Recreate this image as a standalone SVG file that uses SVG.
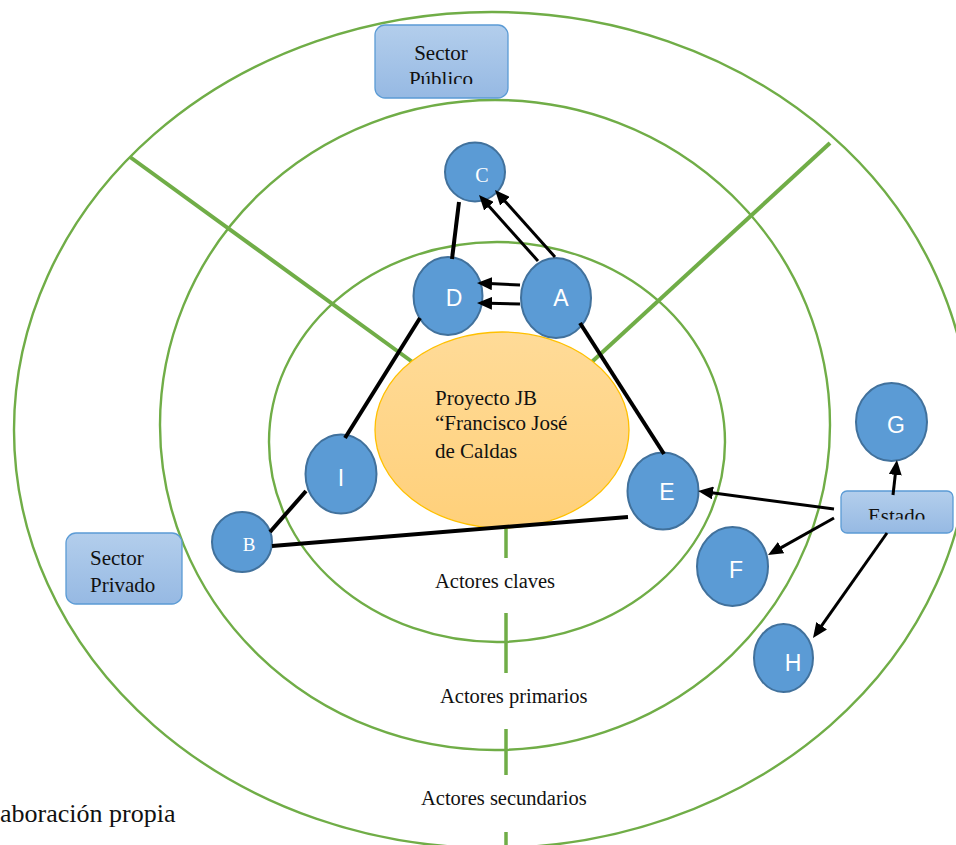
<svg xmlns="http://www.w3.org/2000/svg" width="956" height="845" viewBox="0 0 956 845">
<defs>
<style>
.ring{fill:none;stroke:#70AD47;stroke-width:2.4}
.div{stroke:#70AD47;stroke-width:4;fill:none}
.vdiv{stroke:#70AD47;stroke-width:3.5;fill:none}
.node{fill:#5B9BD5;stroke:#41719C;stroke-width:2}
.ls{font-family:"Liberation Sans",Arial,sans-serif;font-size:23px;fill:#fff;text-anchor:middle}
.lt{font-family:"Liberation Serif","Times New Roman",serif;fill:#fff;text-anchor:middle}
.t{font-family:"Liberation Serif","Times New Roman",serif;fill:#111}
.s20{font-size:20.5px}
.s21{font-size:21px}
.s26{font-size:26px}
.box{fill:url(#bg);stroke:#5B9BD5;stroke-width:1.3}
.thick{stroke:#000;stroke-width:4;fill:none}
.arr{stroke:#000;stroke-width:3;fill:none;marker-end:url(#ah)}
</style>
<linearGradient id="bg" x1="0" y1="0" x2="0" y2="1"><stop offset="0" stop-color="#B3CEEC"/><stop offset="1" stop-color="#96B9E3"/></linearGradient>
<linearGradient id="og" x1="0" y1="0" x2="0" y2="1"><stop offset="0" stop-color="#FFDB98"/><stop offset="1" stop-color="#FFD07A"/></linearGradient>
<marker id="ah" markerUnits="userSpaceOnUse" markerWidth="15" markerHeight="13" refX="3" refY="6.5" orient="auto"><path d="M0,0 L15,6.5 L0,13 z" fill="#000"/></marker>
<clipPath id="cpPub"><rect x="370" y="20" width="145" height="64"/></clipPath>
<clipPath id="cpEst"><rect x="836" y="486" width="120" height="33.5"/></clipPath>
</defs>
<rect width="956" height="845" fill="#fff"/>

<g id="rings">
<ellipse class="ring" cx="492" cy="430" rx="478" ry="418"/>
<ellipse class="ring" cx="495" cy="425" rx="335" ry="325"/>
<ellipse class="ring" cx="497" cy="442" rx="228" ry="200"/>
<line class="div" x1="130" y1="157" x2="440" y2="382"/>
<line class="div" x1="830" y1="143" x2="570" y2="382"/>
<line class="vdiv" x1="506" y1="526" x2="506" y2="558"/>
<line class="vdiv" x1="506" y1="613" x2="506" y2="673"/>
<line class="vdiv" x1="506" y1="729" x2="506" y2="775"/>
<line class="vdiv" x1="506" y1="832" x2="506" y2="845"/>
</g>

<g id="proyecto">
<ellipse cx="502" cy="430" rx="127" ry="98" fill="url(#og)" stroke="#FFC000" stroke-width="1.3"/>
<text class="t s21" x="435" y="405">Proyecto JB</text>
<text class="t s21" x="435" y="430">“Francisco José</text>
<text class="t s21" x="435" y="458">de Caldas</text>
</g>

<g id="labels">
<text class="t s20" x="435" y="588">Actores claves</text>
<text class="t s20" x="440" y="703">Actores primarios</text>
<text class="t s20" x="421" y="805">Actores secundarios</text>
<text class="t s26" x="0" y="822">aboración propia</text>
</g>

<g id="sector-publico">
<rect class="box" x="375" y="25" width="133" height="73" rx="10"/>
<text class="t s21" x="441" y="60" text-anchor="middle">Sector</text>
<text class="t s21" x="441" y="86" text-anchor="middle" clip-path="url(#cpPub)">Público</text>
</g>

<g id="sector-privado">
<rect class="box" x="66" y="533" width="116" height="71" rx="10"/>
<text class="t s21" x="90" y="565">Sector</text>
<text class="t s21" x="90" y="592">Privado</text>
</g>

<g id="estado">
<rect class="box" x="841" y="491" width="112" height="42" rx="6"/>
<text class="t s21" x="868" y="523" clip-path="url(#cpEst)">Estado</text>
</g>

<g id="node-C"><ellipse class="node" cx="475" cy="172" rx="30" ry="29.5"/><text class="lt" x="482" y="182" font-size="20">C</text></g>
<g id="node-D"><ellipse class="node" cx="448" cy="296" rx="34.5" ry="39"/><text class="ls" x="454" y="306">D</text></g>
<g id="node-A"><ellipse class="node" cx="556" cy="298" rx="35" ry="40"/><text class="ls" x="561" y="306">A</text></g>
<g id="node-E"><ellipse class="node" cx="663" cy="491" rx="35.5" ry="38.5"/><text class="ls" x="667" y="500">E</text></g>
<g id="node-I"><ellipse class="node" cx="341" cy="474" rx="35.5" ry="39.5"/><text class="ls" x="341" y="486">I</text></g>
<g id="node-B"><ellipse class="node" cx="242" cy="542" rx="30" ry="30"/><text class="lt" x="249" y="551" font-size="19">B</text></g>
<g id="node-G"><ellipse class="node" cx="891.5" cy="422" rx="35.5" ry="39"/><text class="ls" x="896" y="433">G</text></g>
<g id="node-F"><ellipse class="node" cx="732.5" cy="566.5" rx="35.5" ry="39.5"/><text class="ls" x="736" y="578">F</text></g>
<g id="node-H"><ellipse class="node" cx="783.5" cy="658" rx="29.5" ry="34"/><text class="ls" x="793" y="671">H</text></g>

<g id="connectors">
<line class="thick" x1="459" y1="202" x2="452" y2="259"/>
<line class="thick" x1="420" y1="318" x2="345" y2="438"/>
<line class="thick" x1="306" y1="491" x2="270" y2="532"/>
<line class="thick" x1="272" y1="546" x2="628" y2="517"/>
<line class="thick" x1="580" y1="323" x2="664" y2="454"/>
<line class="arr" x1="538" y1="261" x2="487" y2="204"/>
<line class="arr" x1="555" y1="257" x2="503" y2="199"/>
<line class="arr" x1="520" y1="285" x2="489" y2="283.6"/>
<line class="arr" x1="520" y1="304" x2="489" y2="303.3"/>
<line class="arr" x1="834" y1="509" x2="710" y2="492.6"/>
<line class="arr" x1="834" y1="518" x2="778.5" y2="549.1"/>
<line class="arr" x1="893" y1="495" x2="895.6" y2="471.9"/>
<line class="arr" x1="887" y1="533" x2="819.9" y2="628.2"/>
</g>
</svg>
